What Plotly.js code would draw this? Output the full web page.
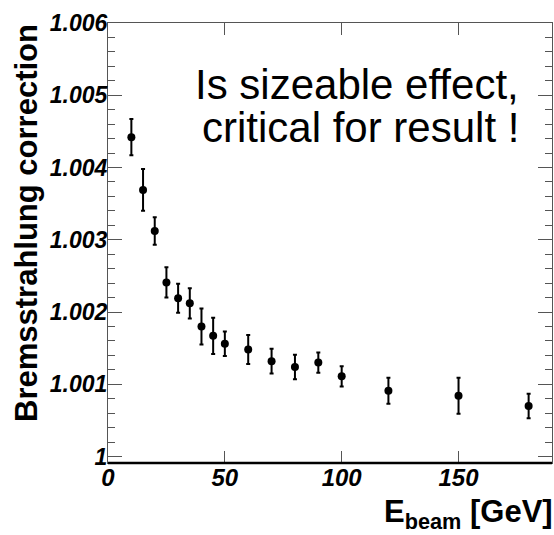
<!DOCTYPE html>
<html>
<head>
<meta charset="utf-8">
<script src="https://cdn.plot.ly/plotly-3.0.1.min.js"></script>
<style>html,body{margin:0;padding:0;background:#fff}#chart{width:554px;height:535px}</style>
</head>
<body>
<div id="chart"></div>
<script>
const energies = [10, 15, 20, 25, 30, 35, 40, 45, 50, 60, 70, 80, 90, 100, 120, 150, 180];
const corrections = [1.00442, 1.00369, 1.00312, 1.00241, 1.00219, 1.00212, 1.00180, 1.00167, 1.00156, 1.00148, 1.00132, 1.00124, 1.00130, 1.00111, 1.00091, 1.00084, 1.00070];
const errors = [0.00025, 0.00029, 0.00019, 0.00021, 0.00020, 0.00021, 0.00025, 0.00025, 0.00017, 0.00020, 0.00017, 0.00017, 0.00014, 0.00014, 0.00018, 0.00025, 0.00017];
const yTickVals = [1, 1.001, 1.002, 1.003, 1.004, 1.005, 1.006];
const yTickText = ['1', '1.001', '1.002', '1.003', '1.004', '1.005', '1.006'];
const xTickVals = [0, 50, 100, 150];
const xTickText = ['0', '50', '100', '150'];
const yTitle = 'Bremsstrahlung correction';
const xTitle = 'E<sub>beam</sub> [GeV]';
const noteLines = ['Is sizeable effect,', 'critical for result !'];

const FONT = 'Liberation Sans, Arial, Helvetica, sans-serif';
const bi = s => '<b><i>' + s + '</i></b>';

const trace = {
  type: 'scatter', mode: 'markers',
  x: energies, y: corrections,
  marker: {color: '#000', size: 8, symbol: 'circle'},
  error_y: {type: 'data', array: errors, visible: true, color: '#000', thickness: 2, width: 2},
  showlegend: false, hoverinfo: 'skip'
};

const layout = {
  width: 554, height: 535,
  margin: {l: 108, r: 2, t: 23, b: 72},
  paper_bgcolor: '#fff', plot_bgcolor: '#fff',
  font: {family: FONT, color: '#000'},
  xaxis: {
    range: [0, 190], showgrid: false, zeroline: false,
    showline: true, linecolor: '#555', linewidth: 1, mirror: 'ticks',
    ticks: 'inside', ticklen: 12, tickcolor: '#555', tickwidth: 1,
    tickmode: 'array', tickvals: xTickVals, ticktext: xTickText.map(bi),
    tickfont: {family: FONT, size: 24, weight: 'bold', style: 'italic', color: '#000'}, ticklabelstandoff: -7
  },
  yaxis: {
    range: [0.99991, 1.006], showgrid: false, zeroline: false,
    showline: true, linecolor: '#555', linewidth: 1, mirror: 'ticks',
    ticks: 'inside', ticklen: 14, tickcolor: '#555', tickwidth: 1,
    tickmode: 'array', tickvals: yTickVals, ticktext: yTickText.map(bi),
    tickfont: {family: FONT, size: 23, weight: 'bold', style: 'italic', color: '#000'}, ticklabelstandoff: -5,
    minor: {tickmode: 'linear', tick0: 1, dtick: 0.0002, ticks: 'inside', ticklen: 7, tickcolor: '#555', tickwidth: 1, showgrid: false}
  },
  shapes: [
    {type: 'line', xref: 'paper', yref: 'paper', x0: 0, x1: 1, y0: 0, y1: 0, line: {color: '#000', width: 2.5}, layer: 'above'}
  ],
  annotations: [
    {xref: 'paper', yref: 'paper', x: -0.185, y: 1.002, xanchor: 'center', yanchor: 'top', textangle: -90,
     text: yTitle, showarrow: false, font: {family: FONT, size: 31, weight: 'bold', color: '#000'}},
    {xref: 'paper', yref: 'paper', x: 1.006, y: -0.165, xanchor: 'right', yanchor: 'bottom',
     text: xTitle, showarrow: false, font: {family: FONT, size: 31, weight: 'bold', color: '#000'}},
    {xref: 'paper', yref: 'paper', x: 0.5597, y: 0.8605, xanchor: 'center', yanchor: 'middle',
     text: noteLines[0], showarrow: false, font: {family: FONT, size: 42, color: '#000'}},
    {xref: 'paper', yref: 'paper', x: 0.5687, y: 0.7627, xanchor: 'center', yanchor: 'middle',
     text: noteLines[1], showarrow: false, font: {family: FONT, size: 42, color: '#000'}}
  ]
};

Plotly.newPlot('chart', [trace], layout, {displayModeBar: false, staticPlot: true});
</script>
</body>
</html>
